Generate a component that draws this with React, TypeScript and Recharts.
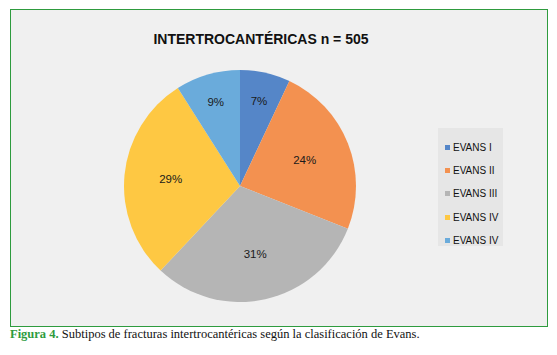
import { PieChart, Pie, Cell, Legend } from "recharts";

const categories = ["EVANS I", "EVANS II", "EVANS III", "EVANS IV", "EVANS IV"];
const percents = [7, 24, 31, 29, 9];
const colors = ["#5586c8", "#f39150", "#b5b5b5", "#fec843", "#6aabdb"];

const data = categories.map((name, i) => ({ name, value: percents[i], fill: colors[i] }));

const RAD = Math.PI / 180;

function renderLabel(props: any) {
  const { cx, cy, midAngle, outerRadius, percent, value } = props;
  const r = outerRadius * (percent < 0.1 ? 0.75 : 0.6);
  const x = cx + r * Math.cos(-midAngle * RAD);
  const y = cy + r * Math.sin(-midAngle * RAD);
  return (
    <text
      x={x}
      y={y}
      fill="#1a1a1a"
      textAnchor="middle"
      dominantBaseline="central"
      fontSize={11.5}
      fontFamily="Liberation Sans, Arial, sans-serif"
    >
      {`${value}%`}
    </text>
  );
}

function LegendBox({ payload }: any) {
  return (
    <div
      style={{
        background: "#e6e6e6",
        width: 65,
        height: 118,
        boxSizing: "border-box",
        padding: "8px 0 0 7px",
        fontFamily: "Liberation Sans, Arial, sans-serif",
        fontSize: 10,
        color: "#111",
      }}
    >
      {(payload || []).map((p: any, i: number) => (
        <div key={i} style={{ display: "flex", alignItems: "center", height: 23.2 }}>
          <span style={{ width: 5, height: 5, background: p.color, marginRight: 3 }} />
          <span>{p.value}</span>
        </div>
      ))}
    </div>
  );
}

export default function App() {
  return (
    <div style={{ position: "relative", width: 541, height: 345 }}>
      <div
        style={{
          position: "absolute",
          left: 2,
          top: 1,
          width: 536,
          height: 316,
          border: "1px solid #2e9b3e",
          background: "#f0f0f0",
        }}
      >
        <div
          style={{
            position: "absolute",
            left: 0,
            width: 500,
            top: 21,
            textAlign: "center",
            fontFamily: "Liberation Sans, Arial, sans-serif",
            fontWeight: "bold",
            fontSize: 14,
            color: "#111",
          }}
        >
          INTERTROCANTÉRICAS n = 505
        </div>
        <PieChart width={536} height={316} style={{ position: "absolute", left: 0, top: 0 }}>
          <Pie
            data={data}
            dataKey="value"
            nameKey="name"
            cx={224}
            cy={171}
            outerRadius={116}
            startAngle={90}
            endAngle={-270}
            stroke="none"
            label={renderLabel}
            labelLine={false}
            isAnimationActive={false}
          >
            {data.map((d, i) => (
              <Cell key={i} fill={d.fill} />
            ))}
          </Pie>
          <Legend
            layout="vertical"
            content={<LegendBox />}
            wrapperStyle={{ position: "absolute", left: 427, top: 118, width: 65 }}
          />
        </PieChart>
      </div>
      <div
        style={{
          position: "absolute",
          left: 2,
          top: 319,
          fontFamily: "Liberation Serif, Times New Roman, serif",
          fontSize: 12.5,
          color: "#111",
          whiteSpace: "nowrap",
        }}
      >
        <span style={{ color: "#2e9b3e", fontWeight: "bold" }}>Figura 4.</span> Subtipos de
        fracturas intertrocantéricas según la clasificación de Evans.
      </div>
    </div>
  );
}
